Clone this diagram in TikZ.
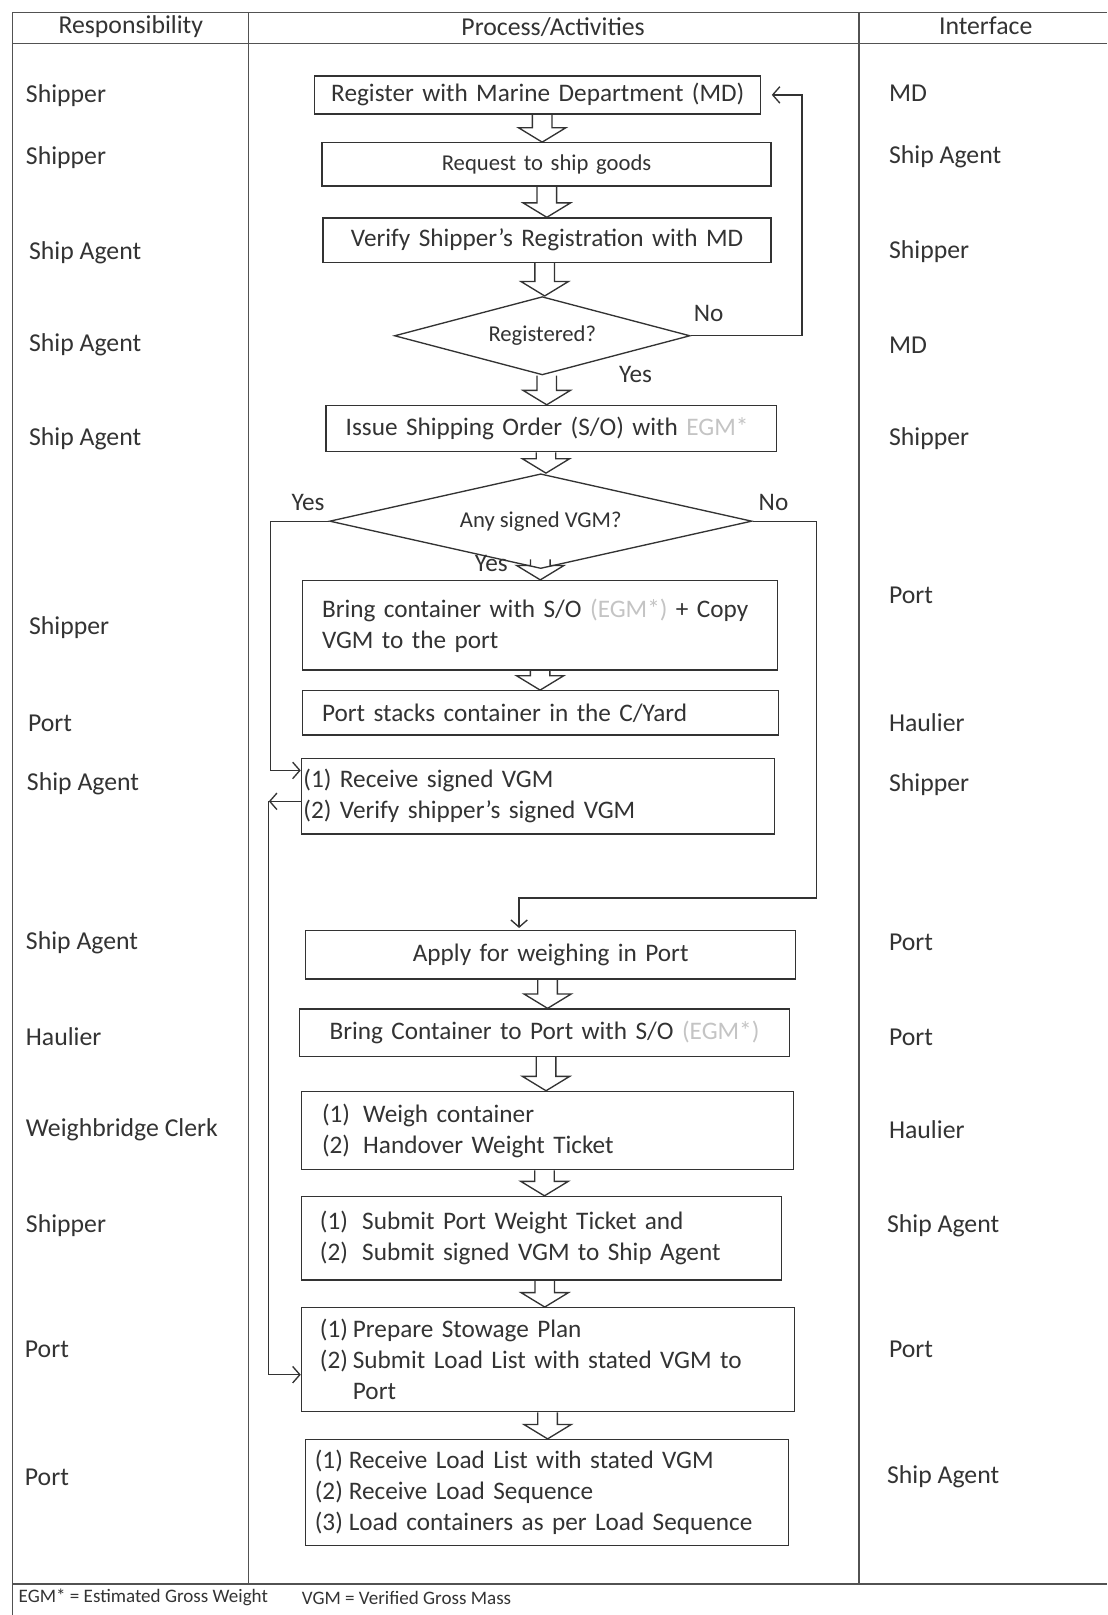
\documentclass[tikz,border=0pt]{standalone}
\usepackage{fontspec}
\setmainfont{Carlito}
\usepackage{tikz}
\usetikzlibrary{positioning, arrows.meta, shapes.geometric, calc}
\usepackage{xcolor}
\definecolor{ink}{HTML}{333333}
\definecolor{faint}{HTML}{C4C4C4}
% hollow block arrow from the bottom of #1 to the top of #2
\newcommand{\hollowarrow}[2]{%
  \draw[hollow] let \p1=(#1.south), \p2=(#2.north), \n1={(\x1+\x2)/2}, \n2={max(\y1,\y2+20)} in
    (\n1-9.5pt,\n2+0pt) -- (\n1-9.5pt,\y2+14pt) -- (\n1-23pt,\y2+14pt) -- (\n1+0pt,\y2)
    -- (\n1+23pt,\y2+14pt) -- (\n1+9.5pt,\y2+14pt) -- (\n1+9.5pt,\n2+0pt);}

\begin{document}
\begin{tikzpicture}[x=1pt, y=-1pt,
  every node/.style={font=\fontsize{24.5}{30}\selectfont, text=ink},
  stepbox/.style={draw=ink, line width=1.3pt, rectangle, anchor=north west,
    inner xsep=0pt, inner ysep=0pt, align=left},
  decision/.style={draw=ink, line width=1.3pt, diamond, inner sep=0pt,
    font=\fontsize{22}{27}\selectfont},
  lbl/.style={anchor=west, inner sep=0pt, font=\fontsize{25}{30}\selectfont},
  tag/.style={inner sep=0pt},
  frame/.style={draw=ink!85, line width=1.3pt},
  flow/.style={draw=ink, line width=1.3pt, -{Straight Barb[length=7pt, width=16pt]}},
  hollow/.style={draw=ink, line width=1.3pt, line join=miter}]
\fill[white] (0,0) rectangle (1075,1568);
\useasboundingbox (0,0) rectangle (1075,1568);

% table
\draw[frame] (12,12) -- (1075,12);
\draw[frame] (12,42) -- (1075,42);
\draw[frame] (12,1538) -- (1075,1538);
\draw[frame] (12,12) -- (12,1568);
\draw[frame] (241,12) -- (241,1538);
\draw[frame] (834,12) -- (834,1538);
\node[tag, font=\fontsize{25}{30}\selectfont] (hresp) at (127,26) {Responsibility};
\node[tag, font=\fontsize{25}{30}\selectfont] (hproc) at (537,26) {Process/Activities};
\node[tag, font=\fontsize{25}{30}\selectfont] (hintf) at (957,25) {Interface};

% responsibility column
\node[lbl] (resp1) at (25,93) {Shipper};
\node[lbl] (resp2) at (25,153) {Shipper};
\node[lbl] (resp3) at (28,245) {Ship Agent};
\node[lbl] (resp4) at (28,335) {Ship Agent};
\node[lbl] (resp5) at (28,426) {Ship Agent};
\node[lbl] (resp6) at (28,609) {Shipper};
\node[lbl] (resp7) at (27,702) {Port};
\node[lbl] (resp8) at (26,761) {Ship Agent};
\node[lbl] (resp9) at (25,915) {Ship Agent};
\node[lbl] (resp10) at (25,1006) {Haulier};
\node[lbl] (resp11) at (25,1097) {Weighbridge Clerk};
\node[lbl] (resp12) at (25,1190) {Shipper};
\node[lbl] (resp13) at (24,1310) {Port};
\node[lbl] (resp14) at (24,1434) {Port};

% interface column
\node[lbl] (intf1) at (863,91) {MD};
\node[lbl] (intf2) at (863,152) {Ship Agent};
\node[lbl] (intf3) at (863,244) {Shipper};
\node[lbl] (intf4) at (863,335) {MD};
\node[lbl] (intf5) at (863,426) {Shipper};
\node[lbl] (intf6) at (863,578) {Port};
\node[lbl] (intf7) at (863,702) {Haulier};
\node[lbl] (intf8) at (863,762) {Shipper};
\node[lbl] (intf9) at (863,915) {Port};
\node[lbl] (intf10) at (863,1007) {Port};
\node[lbl] (intf11) at (863,1097) {Haulier};
\node[lbl] (intf12) at (861,1190) {Ship Agent};
\node[lbl] (intf13) at (863,1310) {Port};
\node[lbl] (intf14) at (861,1434) {Ship Agent};

% process
\node[stepbox, align=center, text width=433pt, minimum height=37pt] (reg) at (305,73) {Register with Marine Department (MD)};
\node[stepbox, align=center, text width=436pt, minimum height=42pt, font=\fontsize{22}{27}\selectfont] (req) at (312,138) {Request to ship goods};
\node[stepbox, align=center, text width=435pt, minimum height=43pt] (ver) at (313,211) {Verify Shipper’s Registration with MD};
\node[decision, aspect=3.8, minimum width=287pt, minimum height=76pt] (regq) at (526.5,326) {Registered?};
\node[stepbox, inner xsep=19pt, text width=399pt, minimum height=45pt] (iss) at (316,393) {Issue Shipping Order (S/O) with \textcolor{faint}{EGM*}};
\node[decision, aspect=4.5, minimum width=410pt, minimum height=92pt] (vgmq) at (525,506) {Any signed VGM?};
\node[stepbox, inner xsep=19pt, text width=423pt, minimum height=87pt] (bring) at (293,563) {Bring container with S/O \textcolor{faint}{(EGM*)} + Copy\\VGM to the port};
\node[stepbox, inner xsep=19pt, text width=424pt, minimum height=43pt] (stack) at (293,670) {Port stacks container in the C/Yard};
\node[stepbox, inner xsep=2pt, text width=455pt, minimum height=73pt] (rcv) at (292,736) {(1) Receive signed VGM\\(2) Verify shipper’s signed VGM};
\node[stepbox, align=center, text width=476pt, minimum height=47pt] (apply) at (296,903) {Apply for weighing in Port};
\node[stepbox, align=center, text width=476pt, minimum height=46pt] (bringport) at (290,979) {Bring Container to Port with S/O \textcolor{faint}{(EGM*)}};
\node[stepbox, inner xsep=20pt, text width=438pt, minimum height=76pt] (weigh) at (292,1059) {\makebox[40pt][l]{(1)}Weigh container\\\makebox[40pt][l]{(2)}Handover Weight Ticket};
\node[stepbox, inner xsep=18pt, text width=430pt, minimum height=81pt] (submit) at (292,1161) {\makebox[41pt][l]{(1)}Submit Port Weight Ticket and\\\makebox[41pt][l]{(2)}Submit signed VGM to Ship Agent};
\node[stepbox, inner xsep=18pt, text width=443pt, minimum height=101pt] (prep) at (292,1269) {\makebox[32pt][l]{(1)}Prepare Stowage Plan\\\makebox[32pt][l]{(2)}Submit Load List with stated VGM to\\\hspace*{32pt}Port};
\node[stepbox, inner xsep=9pt, text width=451pt, minimum height=103pt] (load) at (296,1397) {\makebox[33pt][l]{(1)}Receive Load List with stated VGM\\\makebox[33pt][l]{(2)}Receive Load Sequence\\\makebox[33pt][l]{(3)}Load containers as per Load Sequence};

% branch labels
\node[tag] (nolbl) at (688,304) {No};
\node[tag] (yeslbl) at (617,364) {Yes};
\node[tag] (yesleft) at (299,488) {Yes};
\node[tag] (noright) at (751,488) {No};
\node[tag] (yesdown) at (477,547) {Yes};

\coordinate (nodrop) at (504,872);
\coordinate (loopturn) at (261,778);

\hollowarrow{reg}{req}
\hollowarrow{req}{ver}
\hollowarrow{ver}{regq}
\hollowarrow{regq}{iss}
\hollowarrow{iss}{vgmq}
\hollowarrow{vgmq}{bring}
\hollowarrow{bring}{stack}
\hollowarrow{apply}{bringport}
\hollowarrow{bringport}{weigh}
\hollowarrow{weigh}{submit}
\hollowarrow{submit}{prep}
\hollowarrow{prep}{load}

\draw[flow] (regq.east) -- ++(108,0) |- ([xshift=10]reg.east);
\draw[flow] (vgmq.west) -- ++(-57,0) |- ([yshift=-12]rcv.north west);
\draw[flow] (vgmq.east) -- ++(62,0) |- (nodrop) -- ([yshift=2]nodrop |- apply.north);
\draw[flow] (rcv.west |- loopturn) -- (loopturn);
\draw[flow] (loopturn) |- ([yshift=-14.5]prep.west);

% footnote
\node[lbl, font=\fontsize{18.5}{22}\selectfont] (fegm) at (18,1551) {EGM* = Estimated Gross Weight};
\node[lbl, font=\fontsize{18.5}{22}\selectfont] (fvgm) at (293,1551) {VGM = Verified Gross Mass};
\end{tikzpicture}
\end{document}
